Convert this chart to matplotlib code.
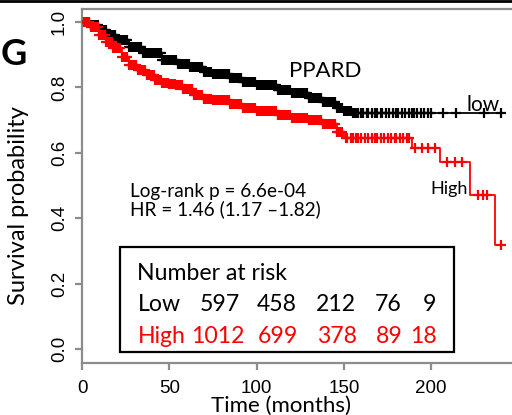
import numpy as np
import matplotlib
matplotlib.use("Agg")
import matplotlib.pyplot as plt

# ---------------- data ----------------
gene = "PPARD"
logrank_text = "Log-rank p = 6.6e-04"
hr_text = "HR = 1.46 (1.17 \u20131.82)"

low_t = [0, 5, 10, 15, 20, 27, 35, 46, 55, 62, 70, 75, 85, 92, 100, 112, 120, 130, 138, 146, 150, 155]
low_s = [1.0, 0.99, 0.975, 0.96, 0.945, 0.925, 0.905, 0.884, 0.872, 0.862, 0.848, 0.84,
         0.828, 0.817, 0.806, 0.792, 0.782, 0.768, 0.755, 0.737, 0.728, 0.722]
low_end = 241

high_t = [0, 5, 10, 14, 18, 23, 27, 32, 37, 42, 46, 50, 54, 58, 64, 70, 75, 85, 92, 100,
          112, 120, 130, 138, 146, 150, 189, 205, 222, 236.5]
high_s = [1.0, 0.985, 0.96, 0.94, 0.92, 0.893, 0.868, 0.852, 0.838, 0.824, 0.813, 0.81,
          0.807, 0.795, 0.777, 0.766, 0.761, 0.748, 0.737, 0.727, 0.716, 0.708, 0.700,
          0.688, 0.665, 0.645, 0.615, 0.572, 0.471, 0.318]
high_end = 240

low_cens = [1, 2, 3, 4, 5, 6, 7, 8, 9, 10, 11, 12, 13, 14, 15, 16, 17, 18, 19, 20, 21, 22,
            23, 24, 25, 26, 27, 28, 29, 30, 31, 32, 33, 34, 35, 36, 37, 38, 39, 40, 41, 42,
            43, 44, 45, 46, 47, 48, 49, 50, 51, 52, 53, 54, 55, 56, 57, 58, 59, 60, 61, 62,
            63, 64, 65, 66, 67, 68, 69, 70, 71, 72, 73, 74, 75, 76, 77, 78, 79, 80, 81, 82,
            83, 84, 85, 86, 87, 88, 89, 90, 91, 92, 93, 94, 95, 96, 97, 98, 99, 100, 101,
            102, 103, 104, 105, 106, 107, 108, 109, 110, 111, 112, 113, 114, 115, 116, 117,
            118, 119, 120, 121, 122, 123, 124, 125, 126, 127, 128, 129, 130, 131, 132, 133,
            134, 135, 136, 137, 138, 139, 140, 141, 142, 143, 144, 145, 146, 147, 148, 149,
            150, 151, 152, 153, 154, 155, 156, 157, 158, 160, 161, 163, 164, 166, 168, 169,
            171, 172, 174, 176, 178, 180, 181, 183, 185, 187, 189, 190, 192, 194, 196, 198,
            200, 207, 214, 230, 240]
high_cens = [1, 2, 3, 4, 5, 6, 7, 8, 9, 10, 11, 12, 13, 14, 15, 16, 17, 18, 19, 20, 21, 22,
             23, 24, 25, 26, 27, 28, 29, 30, 31, 32, 33, 34, 35, 36, 37, 38, 39, 40, 41, 42,
             43, 44, 45, 46, 47, 48, 49, 50, 51, 52, 53, 54, 55, 56, 57, 58, 59, 60, 61, 62,
             63, 64, 65, 66, 67, 68, 69, 70, 71, 72, 73, 74, 75, 76, 77, 78, 79, 80, 81, 82,
             83, 84, 85, 86, 87, 88, 89, 90, 91, 92, 93, 94, 95, 96, 97, 98, 99, 100, 101,
             102, 103, 104, 105, 106, 107, 108, 109, 110, 111, 112, 113, 114, 115, 116, 117,
             118, 119, 120, 121, 122, 123, 124, 125, 126, 127, 128, 129, 130, 131, 132, 133,
             134, 135, 136, 137, 138, 139, 140, 141, 142, 143, 144, 145, 146, 147, 148, 149,
             151, 152, 154, 155, 157, 158, 160, 162, 164, 166, 168, 169, 171, 173, 175, 177,
             179, 180, 182, 184, 186, 187,
             190.7, 194.6, 198.4, 202.2, 209, 213.6, 217.5, 227, 229.8, 231.8, 240]

risk_groups = ["Low", "High"]
risk_low = ["597", "458", "212", "76", "9"]
risk_high = ["1012", "699", "378", "89", "18"]

xticks = [0, 50, 100, 150, 200]
yticks = [0.0, 0.2, 0.4, 0.6, 0.8, 1.0]

# ---------------- figure ----------------
W, H = 512, 415
fig = plt.figure(figsize=(W / 100, H / 100), dpi=100)
TXT = "Lato"
TICKF = "Liberation Sans"
GRAY = "#8c8c8c"
RED = "#ff0000"


def fx(px):
    return px / W


def fy(py):
    return 1 - py / H


ax = fig.add_axes([fx(82), fy(363), (518.5 - 82) / W, (363 - 9) / H])
ax.set_xlim(0, 250)
ax.set_ylim(-0.043, 1.04)
for s in ["left", "bottom", "top"]:
    ax.spines[s].set_color(GRAY)
    ax.spines[s].set_linewidth(1.6)
ax.spines["right"].set_visible(False)


def step_value(t, ts, ss):
    idx = np.searchsorted(np.asarray(ts), t, side="right") - 1
    return np.asarray(ss)[idx]


def draw_curve(ts, ss, end, cens, color):
    xs = list(ts) + [end]
    ys = list(ss) + [ss[-1]]
    ax.step(xs, ys, where="post", color=color, lw=1.3, zorder=3)
    cy = step_value(np.asarray(cens), ts, ss)
    ax.plot(cens, cy, ls="none", marker="+", ms=7, mew=1.6, color=color, zorder=3)


draw_curve(low_t, low_s, low_end, low_cens, "black")
draw_curve(high_t, high_s, high_end, high_cens, RED)

ax.set_xticks(xticks)
ax.set_xticklabels([str(v) for v in xticks], fontfamily=TICKF, fontsize=13.5)
ax.set_yticks(yticks)
ax.set_yticklabels([f"{v:.1f}" for v in yticks], fontfamily=TICKF, fontsize=13.5,
                   rotation=90, va="center")
ax.tick_params(axis="both", color=GRAY, width=1.6, length=5)
ax.tick_params(axis="y", pad=5)
ax.tick_params(axis="x", pad=7)

# axis labels
fig.text(fx(19), fy(206), "Survival probability", rotation=90, ha="center", va="center",
         fontfamily=TXT, fontsize=17)
fig.text(fx(281), fy(412), "Time (months)", ha="center", va="baseline",
         fontfamily=TXT, fontsize=16)

# panel letter
fig.text(fx(1), fy(65), "G", ha="left", va="baseline", fontfamily=TXT,
         fontweight="bold", fontsize=26)

# top border line
fig.add_artist(plt.Line2D([0, 1], [fy(0.8), fy(0.8)], transform=fig.transFigure,
                          color="black", lw=2))

# annotations
fig.text(fx(289), fy(77), gene, ha="left", va="baseline", fontfamily=TXT, fontsize=16)
fig.text(fx(466), fy(111), "low", ha="left", va="baseline", fontfamily=TXT, fontsize=15)
fig.text(fx(430), fy(194), "High", ha="left", va="baseline", fontfamily=TXT, fontsize=13)
fig.text(fx(130), fy(197), logrank_text, ha="left", va="baseline", fontfamily=TXT, fontsize=13.7)
fig.text(fx(130), fy(215), hr_text, ha="left", va="baseline", fontfamily=TXT, fontsize=13.7)

# number at risk box
box = plt.Rectangle((fx(120), fy(352)), fx(454) - fx(120), fy(247) - fy(352),
                    transform=fig.transFigure, fill=False, edgecolor="black", lw=1.6, zorder=5)
fig.add_artist(box)
fig.text(fx(137), fy(280), "Number at risk", ha="left", va="baseline", fontfamily=TXT, fontsize=16.6)
col_right_low = [240, 297, 356, 402, 436]
col_right_high = [245, 298, 357, 403, 437]
fig.text(fx(138), fy(311), risk_groups[0], ha="left", va="baseline", fontfamily=TXT, fontsize=16.6)
fig.text(fx(138), fy(343), risk_groups[1], ha="left", va="baseline", fontfamily=TXT,
         fontsize=16.6, color=RED)
for xr, v in zip(col_right_low, risk_low):
    fig.text(fx(xr), fy(311), v, ha="right", va="baseline", fontfamily=TXT, fontsize=16.6)
for xr, v in zip(col_right_high, risk_high):
    fig.text(fx(xr), fy(343), v, ha="right", va="baseline", fontfamily=TXT, fontsize=16.6,
             color=RED)

fig.savefig("out.png", dpi=100)
